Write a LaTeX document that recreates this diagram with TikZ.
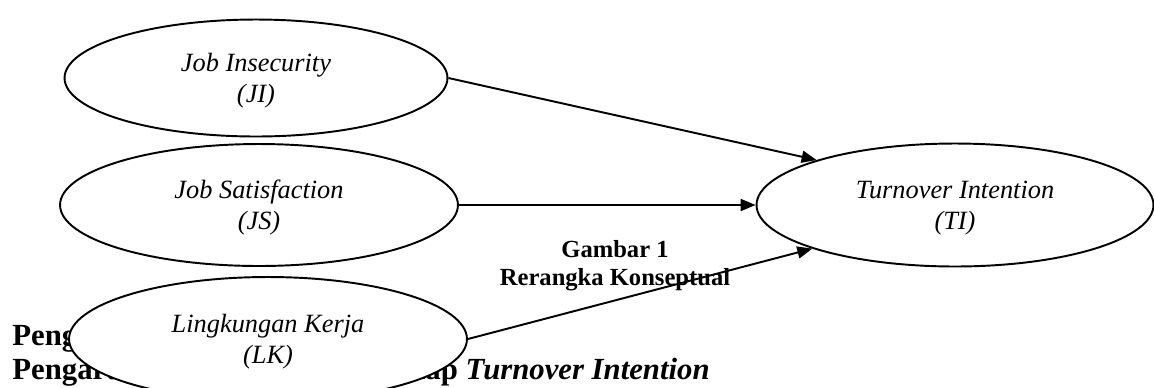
\documentclass[tikz,border=0pt]{standalone}
\usepackage{fontspec}
\setmainfont{Liberation Serif}
\usetikzlibrary{shapes.geometric,arrows.meta,positioning}

\begin{document}
\begin{tikzpicture}[x=0.02cm,y=-0.02cm,
		var/.style={ellipse,draw,line width=1.1pt,fill=white,inner sep=0pt,align=center,
			text depth=0pt,font=\fontsize{15}{17.5}\selectfont\itshape},
		link/.style={line width=1.1pt,-{Triangle[length=3mm,width=2.4mm]}},
		caption/.style={align=center,inner sep=0pt,font=\fontsize{14}{16}\selectfont\bfseries},
		heading/.style={inner sep=0pt,font=\fontsize{17.5}{19}\selectfont\bfseries}]
	\useasboundingbox (0,0) rectangle (1154,387);
	% text behind the diagram
	\node[heading,anchor=base west] (h1) at (12,345) {Peng};
	\node[heading,anchor=base west] (h2) at (12,379) {Pengaruh};
	\node[heading,anchor=base east] (h3) at (710,379) {hap \textit{Turnover Intention}};
	% variables
	\node[var,minimum width=7.66cm,minimum height=2.34cm] (ji) at (256,78) {Job Insecurity\\(JI)};
	\node[var,minimum width=7.96cm,minimum height=2.44cm] (js) at (259,205) {Job Satisfaction\\(JS)};
	\node[var,minimum width=7.96cm,minimum height=2.48cm] (lk) at (268,339) {Lingkungan Kerja\\(LK)};
	\node[var,minimum width=7.94cm,minimum height=2.46cm] (ti) at (955,205) {Turnover Intention\\(TI)};
	\node[caption] (gb) at (615,266) {Gambar 1\\Rerangka Konseptual};
	% paths
	\draw[link] (ji.east) -- (ti.162);
	\draw[link] (js.east) -- (ti.west);
	\draw[link] (lk.east) -- (ti.197);
\end{tikzpicture}
\end{document}
